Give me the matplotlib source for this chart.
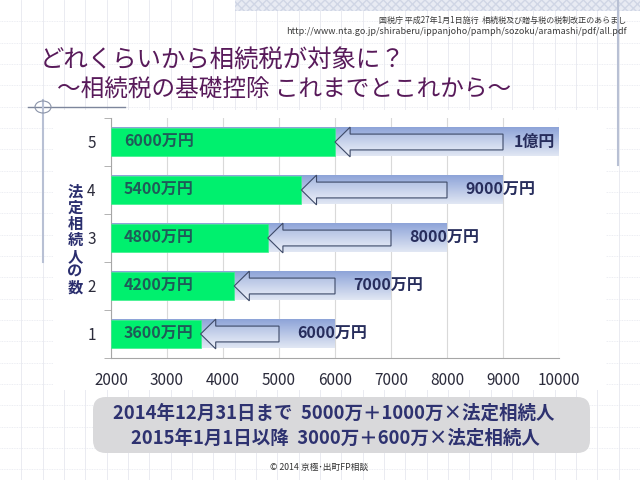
import numpy as np
import matplotlib
matplotlib.use("Agg")
import matplotlib.pyplot as plt
from matplotlib.patches import Rectangle, Polygon, FancyBboxPatch, Circle
from matplotlib.lines import Line2D
from matplotlib.colors import LinearSegmentedColormap

plt.rcParams['font.family'] = ['Noto Sans CJK JP', 'DejaVu Sans']

# ---- data ----
heirs = [1, 2, 3, 4, 5]
old_values = [6000, 7000, 8000, 9000, 10000]
new_values = [3600, 4200, 4800, 5400, 6000]
old_labels = ['6000万円', '7000万円', '8000万円', '9000万円', '1億円']
new_labels = ['3600万円', '4200万円', '4800万円', '5400万円', '6000万円']
x_ticks = [2000, 3000, 4000, 5000, 6000, 7000, 8000, 9000, 10000]

W, H = 640, 480
fig = plt.figure(figsize=(6.4, 4.8), dpi=100)
fig.patch.set_facecolor('white')

def fx(px):
    return px / W

def fy(py):
    return 1 - py / H

# background slide grid
step = 640 / 30
for i in range(1, 31):
    fig.add_artist(Line2D([fx(i * step)] * 2, [0, 1], color='#e6e8ef', lw=0.6, zorder=0))
for j in range(1, 23):
    fig.add_artist(Line2D([0, 1], [fy(j * step)] * 2, color='#e6e8ef', lw=0.6,
                          ls=(0, (1, 1)), zorder=0))

# hatched band at top right
fig.add_artist(Rectangle((fx(235), fy(11)), fx(640 - 235), 11 / H, transform=fig.transFigure,
                         facecolor='#e8ebf3', edgecolor='#d0d6e5', hatch='xxxx', lw=0, zorder=1))
# right vertical deco line
fig.add_artist(Line2D([fx(618)] * 2, [fy(0), fy(165)], color='#b8c0d4', lw=1.5, zorder=1))

# white chart area
fig.add_artist(Rectangle((fx(53), fy(390)), fx(606 - 53), (390 - 110) / H,
                         transform=fig.transFigure, facecolor='white', edgecolor='none', zorder=1))

# deco line under title + circle + vertical line
fig.add_artist(Line2D([fx(28), fx(125)], [fy(107)] * 2, color='#7d869c', lw=1.0, zorder=2))
fig.add_artist(Line2D([fx(43)] * 2, [fy(100), fy(262)], color='#b8c0d4', lw=1.5, zorder=2))
fig.add_artist(Circle((fx(43), fy(107)), 6 / H, transform=fig.transFigure, fill=False,
                      edgecolor='#8a93a8', lw=0.8, zorder=2))

# source text
fig.text(fx(626), fy(20), '国税庁 平成27年1月1日施行  相続税及び贈与税の税制改正のあらまし',
         ha='right', va='center', fontsize=5.8, color='#3a3a3a')
fig.text(fx(627), fy(31), 'http://www.nta.go.jp/shiraberu/ippanjoho/pamph/sozoku/aramashi/pdf/all.pdf',
         ha='right', va='center', fontsize=6.5, color='#3a3a3a')

# title
fig.text(fx(40), fy(60), 'どれくらいから相続税が対象に？', ha='left', va='center',
         fontsize=17.6, color='#581a5a')
fig.text(fx(57), fy(90), '～相続税の基礎控除 これまでとこれから～', ha='left', va='center',
         fontsize=17, color='#581a5a')

# ---- axes ----
ax = fig.add_axes([fx(111), fy(358), fx(559 - 111), (358 - 118) / H])
ax.set_facecolor('none')
ax.set_zorder(3)

bar_h = 0.6
cmap_bar = LinearSegmentedColormap.from_list('bar', ['#8ea4d8', '#e1e7f4'])
cmap_arr = LinearSegmentedColormap.from_list('arr', ['#a3b5de', '#f0f3fa'])
grad = np.linspace(0, 1, 64).reshape(-1, 1)

for y, ov, nv, ol, nl in zip(heirs, old_values, new_values, old_labels, new_labels):
    # old (blue gradient) bar
    ax.imshow(grad, extent=[x_ticks[0], ov, y - bar_h / 2, y + bar_h / 2], aspect='auto',
              cmap=cmap_bar, zorder=2, interpolation='bilinear')
    # new (green) bar
    ax.barh(y, nv - x_ticks[0], left=x_ticks[0], height=bar_h, color='#00f06e',
            edgecolor='#3cf08c', lw=0.5, zorder=3)
    # block arrow from old toward new
    tail = ov - 1000
    hl, hw, bw = 270, 0.31, 0.165
    pts = [(nv, y), (nv + hl, y + hw), (nv + hl, y + bw), (tail, y + bw),
           (tail, y - bw), (nv + hl, y - bw), (nv + hl, y - hw)]
    poly = Polygon(pts, closed=True, facecolor='none', edgecolor='#3e4a68', lw=0.8, zorder=5)
    ax.add_patch(poly)
    im = ax.imshow(grad, extent=[nv, tail, y - hw, y + hw], aspect='auto',
                   cmap=cmap_arr, zorder=4, interpolation='bilinear')
    im.set_clip_path(poly)
    # labels
    ax.text(x_ticks[0] + 230, y, nl, ha='left', va='center', fontsize=11.5,
            fontweight='bold', color='#1f5b58', zorder=6)
    if ov >= x_ticks[-1]:
        ax.text(ov - 70, y, ol, ha='right', va='center', fontsize=11.5,
                fontweight='bold', color='#272d5c', zorder=6)
    else:
        ax.text(ov - 50, y, ol, ha='center', va='center', fontsize=11.5,
                fontweight='bold', color='#272d5c', zorder=6)

ax.set_xlim(x_ticks[0], x_ticks[-1])
ax.set_ylim(0.5, 5.5)
ax.set_xticks(x_ticks)
ax.set_xticklabels([str(v) for v in x_ticks])
ax.set_yticks(heirs)
ax.set_yticks(np.arange(0.5, 6, 1), minor=True)
ax.tick_params(axis='y', which='major', length=0, pad=11, labelsize=11, labelcolor='#2b2b3b')
ax.tick_params(axis='y', which='minor', length=5, color='#a6a6a6', direction='out')
ax.tick_params(axis='x', length=0, pad=10, labelsize=11, labelcolor='#2b2b3b')
ax.grid(axis='x', color='#d9d9d9', lw=0.8, zorder=0)
ax.set_axisbelow(True)
for s in ['top', 'right']:
    ax.spines[s].set_visible(False)
for s in ['left', 'bottom']:
    ax.spines[s].set_color('#a6a6a6')
    ax.spines[s].set_linewidth(0.8)

# y axis label (vertical stacked)
fig.text(fx(75), fy(240), '\n'.join('法定相続人の数'), ha='center', va='center',
         fontsize=11, fontweight='bold', color='#2a2e6e', linespacing=1.0)

# bottom box
fig.add_artist(FancyBboxPatch((fx(93), fy(453)), fx(590 - 93), (453 - 397) / H,
                              boxstyle='round,pad=0,rounding_size=0.02',
                              transform=fig.transFigure, facecolor='#d9d9db',
                              edgecolor='none', zorder=2, mutation_aspect=640 / 480))
fig.text(fx(334), fy(413), '2014年12月31日まで  5000万＋1000万×法定相続人', ha='center', va='center',
         fontsize=13.3, fontweight='bold', color='#2e3270', zorder=3)
fig.text(fx(335), fy(438), '2015年1月1日以降  3000万＋600万×法定相続人', ha='center', va='center',
         fontsize=13.3, fontweight='bold', color='#2e3270', zorder=3)

fig.text(fx(319), fy(467), '© 2014 京極･出町FP相談', ha='center', va='center',
         fontsize=6.3, color='#333333')

fig.savefig('out.png', dpi=100)
